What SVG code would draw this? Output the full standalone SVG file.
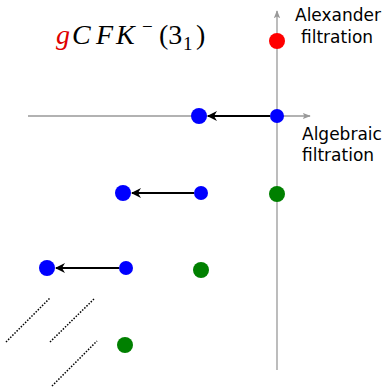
<svg xmlns="http://www.w3.org/2000/svg" width="388" height="387" viewBox="0 0 388 387">
<style>
.axis{stroke:#999;stroke-width:1.3;fill:none}
.arr{stroke:#000;stroke-width:2;fill:none}
.dot{stroke:#000;stroke-width:1.5;stroke-dasharray:1.5 1.5;fill:none}
.lbl{font-family:"DejaVu Sans",sans-serif;font-size:17px;fill:#000}
.m{font-family:"Liberation Serif",serif;font-style:italic;font-size:28px;fill:#000}
.mu{font-family:"Liberation Serif",serif;font-size:28px;fill:#000}
.sm{font-size:19px}
.blue{fill:#0000ff}.green{fill:#008000}.red{fill:#ff0000}
</style>
<defs>
<marker id="ah" viewBox="0 0 10 10" refX="9" refY="5" markerWidth="10" markerHeight="10" markerUnits="userSpaceOnUse" orient="auto"><path d="M0,0 L10,5 L0,10 L3,5 Z" fill="#000"/></marker>
<marker id="ax" viewBox="0 0 10 10" refX="9" refY="5" markerWidth="8" markerHeight="8" markerUnits="userSpaceOnUse" orient="auto"><path d="M0,1 L10,5 L0,9 L2,5 Z" fill="#999"/></marker>
</defs>
<g id="axes">
<line class="axis" x1="277" y1="370" x2="277" y2="11" marker-end="url(#ax)"/>
<line class="axis" x1="28" y1="116" x2="310" y2="116" marker-end="url(#ax)"/>
</g>
<g id="title">
<text x="56" y="44" class="m"><tspan fill="#e00000">g</tspan><tspan x="72">C</tspan><tspan x="96">F</tspan><tspan x="116">K</tspan></text>
<text x="142" y="33" class="mu sm">−</text>
<text x="159" y="44" class="mu">(3</text>
<text x="183" y="50" class="mu sm">1</text>
<text x="196" y="44" class="mu">)</text>
</g>
<g id="labels">
<text class="lbl" x="295" y="21">Alexander</text>
<text class="lbl" x="301" y="43">filtration</text>
<text class="lbl" x="302" y="140">Algebraic</text>
<text class="lbl" x="302" y="161">filtration</text>
</g>
<g id="connectors">
<line class="arr" x1="270" y1="116" x2="208" y2="116" marker-end="url(#ah)"/>
<line class="arr" x1="194" y1="193" x2="132" y2="193" marker-end="url(#ah)"/>
<line class="arr" x1="119" y1="268" x2="56" y2="268" marker-end="url(#ah)"/>
<line class="dot" x1="6" y1="342" x2="50" y2="298"/>
<line class="dot" x1="50" y1="342" x2="95" y2="298"/>
<line class="dot" x1="52" y1="386" x2="97" y2="341"/>
</g>
<g id="n-red"><circle class="red" cx="277" cy="41" r="8"/></g>
<g id="n-b1a"><circle class="blue" cx="199" cy="116" r="8"/></g>
<g id="n-b1b"><circle class="blue" cx="277" cy="116" r="7"/></g>
<g id="n-b2a"><circle class="blue" cx="123" cy="193" r="8"/></g>
<g id="n-b2b"><circle class="blue" cx="201" cy="193" r="7"/></g>
<g id="n-g2"><circle class="green" cx="277" cy="194" r="8"/></g>
<g id="n-b3a"><circle class="blue" cx="47" cy="268" r="8"/></g>
<g id="n-b3b"><circle class="blue" cx="126" cy="268" r="7"/></g>
<g id="n-g3"><circle class="green" cx="201" cy="270" r="8"/></g>
<g id="n-g4"><circle class="green" cx="125" cy="345" r="8"/></g>
</svg>
